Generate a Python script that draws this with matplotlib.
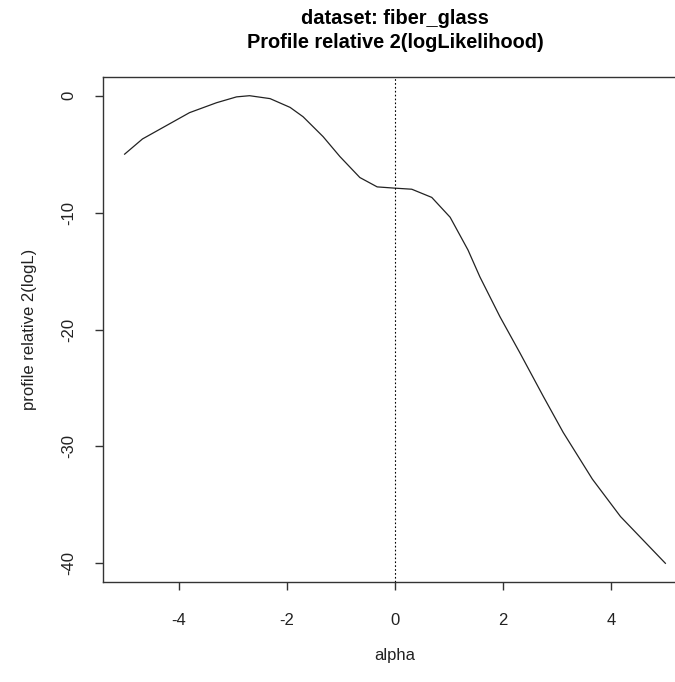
import matplotlib
matplotlib.use("Agg")
import matplotlib.pyplot as plt

alpha = [-5.0, -4.67, -3.8, -3.3, -2.93, -2.69, -2.31, -1.94, -1.7, -1.33, -1.02,
         -0.65, -0.33, -0.03, 0.31, 0.68, 1.02, 1.35, 1.57, 1.94, 2.31, 2.74,
         3.11, 3.65, 4.17, 5.0]
profile = [-5.0, -3.7, -1.45, -0.6, -0.1, 0.0, -0.25, -1.0, -1.8, -3.5, -5.2,
           -7.0, -7.8, -7.9, -8.0, -8.7, -10.4, -13.2, -15.5, -18.9, -22.0, -25.7,
           -28.8, -32.8, -36.0, -40.0]
xticks = [-4, -2, 0, 2, 4]
yticks = [0, -10, -20, -30, -40]

plt.rcParams['font.family'] = ['Liberation Sans', 'DejaVu Sans']

W, H = 675, 682
fig = plt.figure(figsize=(W / 100, H / 100), dpi=100)
left, right, top, bottom = 103, 687, 77, 582
ax = fig.add_axes([left / W, (H - bottom) / H, (right - left) / W, (bottom - top) / H])

ax.plot(alpha, profile, color='#222222', lw=0.9)
ax.axvline(0, color='black', lw=0.8, linestyle=(0, (1.5, 2)))

ax.set_xlim(-5.4, 5.4)
ax.set_ylim(-41.6, 1.6)
ax.set_xticks(xticks)
ax.set_yticks(yticks)
ax.set_xticklabels([str(t) for t in xticks], fontsize=12, color='#222222')
ax.set_yticklabels([str(t) for t in yticks], fontsize=12, rotation=90, va='center', color='#222222')
ax.tick_params(axis='x', length=6, width=1, pad=16, color='#333333')
ax.tick_params(axis='y', length=6, width=1, pad=13, color='#333333')
for s in ax.spines.values():
    s.set_linewidth(1.0)
    s.set_color('#333333')

ax.set_xlabel('alpha', fontsize=12, color='#222222', labelpad=15)
ax.set_ylabel('profile relative 2(logL)', fontsize=12, color='#222222', labelpad=18)

cx = ((left + right) / 2) / W
fig.text(cx, 1 - 18 / H, 'dataset: fiber_glass', ha='center', va='center',
         fontsize=14.4, fontweight='bold')
fig.text(cx, 1 - 43 / H, 'Profile relative 2(logLikelihood)', ha='center', va='center',
         fontsize=14.4, fontweight='bold')

fig.savefig('out.png', dpi=100)
